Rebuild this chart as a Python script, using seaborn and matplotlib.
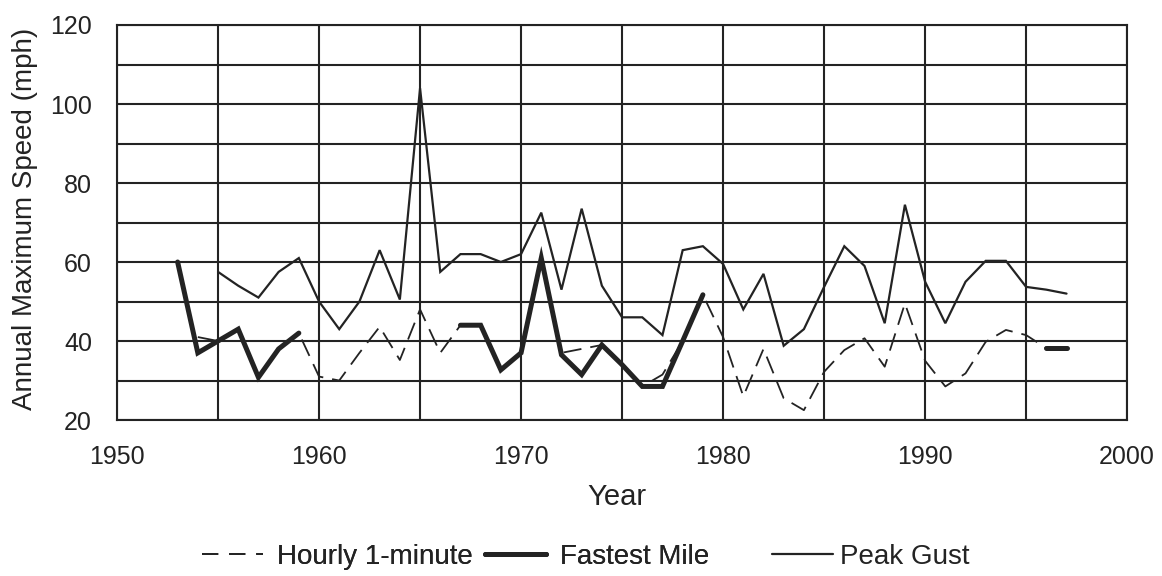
import numpy as np
import pandas as pd
import matplotlib.pyplot as plt
import seaborn as sns
from matplotlib.lines import Line2D
from matplotlib.ticker import MultipleLocator

nan = np.nan
years = list(range(1953, 1998))

# annual maxima (mph), NaN = no record
hourly_1min = [nan, 41, 40, 43, 31, 38, 42, 31, 30, 37,
               43.6, 35.2, 48, 37, 44, 44, 32.7, 37, 61, 37,
               38, 39, 34, 28.5, 31.5, 40, 51.7, 41, 26, 38,
               25.5, 22.5, 32.2, 37.7, 40.7, 33.5, 49.5, 35, 28.5, 31.8,
               39.8, 42.8, 41.5, 38.2, 38.2]
fastest_mile = [60, 37, 40, 43, 30.8, 38, 42, nan, nan, nan,
                nan, nan, nan, nan, 44, 44, 32.7, 37, 61, 36.5,
                31.5, 39, 34, 28.5, 28.5, 40, 51.7, nan, nan, nan,
                nan, nan, nan, nan, nan, nan, nan, nan, nan, nan,
                nan, nan, nan, 38.2, 38.2]
peak_gust = [nan, nan, 57.5, 54, 51, 57.5, 61, 50, 43, 50,
             63, 50.5, 104, 57.5, 62, 62, 60, 62, 72.5, 53,
             73.5, 54, 46, 46, 41.5, 63, 64, 59.5, 48, 57,
             38.8, 43, 53.7, 64, 59, 44.5, 74.5, 55, 44.5, 55,
             60.3, 60.3, 53.7, 53, 52]

ink = "#232323"


def segments(values):
    # split a series at its gaps so the line is not bridged
    d = pd.DataFrame({"year": years, "speed": values})
    d["seg"] = d["speed"].isna().cumsum()
    return d.dropna()


sns.set_style("white")
plt.rcParams["font.family"] = ["Liberation Sans", "DejaVu Sans"]

fig, ax = plt.subplots(figsize=(11.62, 5.76), dpi=100)
fig.subplots_adjust(left=0.1007, right=0.970, top=0.9566, bottom=0.2708)

sns.lineplot(data=segments(peak_gust), x="year", y="speed", units="seg",
             estimator=None, color=ink, lw=1.6, solid_joinstyle="miter", ax=ax)
sns.lineplot(data=segments(hourly_1min), x="year", y="speed", units="seg",
             estimator=None, color=ink, lw=1.3, linestyle=(0, (10, 5)), ax=ax)
sns.lineplot(data=segments(fastest_mile), x="year", y="speed", units="seg",
             estimator=None, color=ink, lw=3.6, solid_joinstyle="miter", ax=ax)

ax.set_xlim(1950, 2000)
ax.set_ylim(20, 120)
ax.xaxis.set_major_locator(MultipleLocator(10))
ax.xaxis.set_minor_locator(MultipleLocator(5))
ax.yaxis.set_major_locator(MultipleLocator(20))
ax.yaxis.set_minor_locator(MultipleLocator(10))
ax.grid(which="both", color=ink, lw=1.5)
ax.set_axisbelow(True)
for s in ax.spines.values():
    s.set_color(ink)
    s.set_linewidth(1.5)
ax.tick_params(which="both", direction="inout", length=6, width=1.5,
               color=ink, labelcolor=ink, labelsize=18, pad=15)

ax.set_xlabel("Year", fontsize=21, color=ink)
ax.set_ylabel("Annual Maximum Speed (mph)", fontsize=20, color=ink)
ax.xaxis.set_label_coords(0.495, -0.16)
ax.yaxis.set_label_coords(-0.078, 0.51)

h_hourly = Line2D([], [], color=ink, lw=1.3, linestyle=(0, (9, 6)))
h_fastest = Line2D([], [], color=ink, lw=3.6)
h_peak = Line2D([], [], color=ink, lw=1.6)
leg1 = fig.legend([h_hourly, h_fastest], ["Hourly 1-minute", "Fastest Mile"],
                  loc="center", bbox_to_anchor=(0.392, 0.033), ncol=2,
                  frameon=False, fontsize=20, handlelength=2.2,
                  handletextpad=0.5, columnspacing=0.45, labelcolor=ink)
fig.add_artist(leg1)
fig.legend([h_peak], ["Peak Gust"], loc="center", bbox_to_anchor=(0.749, 0.033),
           frameon=False, fontsize=20, handlelength=2.2, handletextpad=0.25,
           labelcolor=ink)

fig.savefig("out.png", dpi=100)
